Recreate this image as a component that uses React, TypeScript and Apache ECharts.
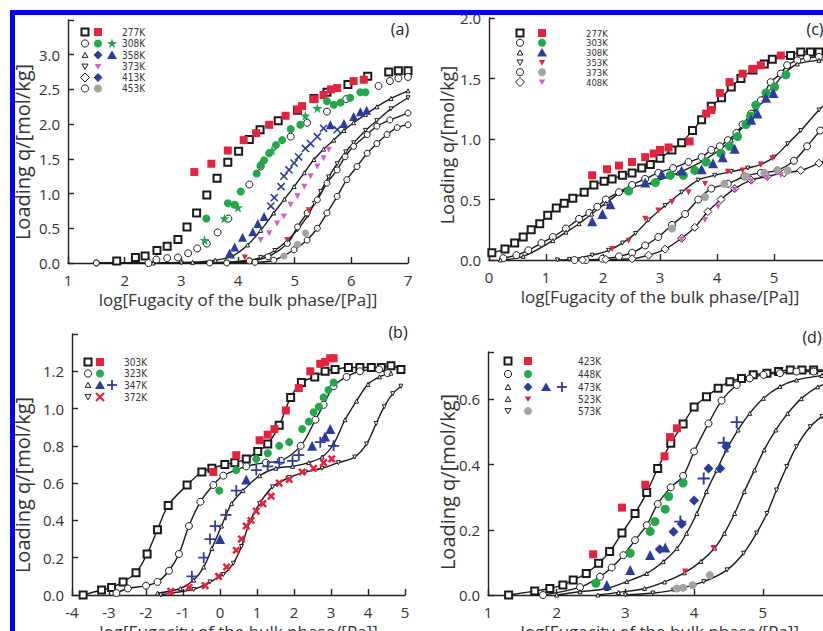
import React, { useEffect, useRef } from 'react';
import * as echarts from 'echarts';

// ---------- colours / fonts ----------
const RED = '#e6233f';
const GREEN = '#22a84a';
const BLUE = '#2c3c9c';
const MAGENTA = '#d65ac8';
const GREY = '#a3a3a3';
const BLACK = '#1a1a1a';
const FONT = "'Open Sans', 'Noto Sans', sans-serif";
const NARROW = "'Liberation Sans Narrow', 'DejaVu Sans Condensed', 'Liberation Sans', sans-serif";

const X_NAME = 'log[Fugacity of the bulk phase/[Pa]]';
const Y_NAME = 'Loading q/[mol/kg]';

// ---------- panel (a) ----------
const a277Sim = [[1.86,0.03],[2.19,0.08],[2.36,0.10],[2.57,0.18],[2.75,0.24],[2.94,0.34],[3.10,0.52],[3.27,0.72],[3.45,0.98],[3.63,1.22],[3.82,1.45],[4.01,1.61],[4.20,1.78],[4.39,1.92],[4.71,2.05],[5.05,2.20],[5.34,2.37],[5.57,2.46],[5.94,2.57],[6.29,2.69],[6.66,2.75],[6.83,2.77],[7.0,2.77]];
const a277Exp = [[3.23,1.31],[3.53,1.43],[3.82,1.62],[4.10,1.77],[4.32,1.87],[4.55,1.99],[4.84,2.12],[5.05,2.21],[5.13,2.26],[5.34,2.36],[5.51,2.42],[5.64,2.50],[5.75,2.52],[6.04,2.62],[6.22,2.64]];
const a308Sim = [[2.42,0.0],[2.56,0.05],[2.75,0.07],[2.94,0.08],[3.12,0.14],[3.28,0.21],[3.45,0.28],[3.64,0.44],[3.83,0.64],[4.20,1.13],[4.40,1.39],[4.93,1.82],[5.22,2.02],[5.57,2.18],[5.91,2.36],[6.48,2.55],[6.68,2.62],[6.83,2.66],[7.0,2.68]];
const a308Exp = [[3.44,0.64],[3.82,0.86],[3.94,0.84],[4.05,1.03],[4.33,1.29],[4.40,1.41],[4.46,1.48],[4.55,1.58],[4.67,1.70],[4.78,1.77],[4.93,1.93],[5.10,1.99],[5.57,2.33],[5.69,2.28],[5.81,2.31],[5.98,2.38],[6.16,2.46],[6.25,2.46]];
const a308Star = [[3.41,0.33],[3.76,0.64],[4.0,0.80],[4.6,1.62],[5.19,2.12],[5.40,2.23]];
const a358Sim = [[1.5,0],[2.5,0.0],[3.2,0.01],[3.6,0.04],[3.9,0.10],[4.17,0.26],[4.4,0.47],[4.63,0.72],[4.82,0.92],[4.99,1.10],[5.17,1.30],[5.34,1.49],[5.51,1.64],[5.69,1.77],[5.87,1.91],[6.04,2.02],[6.25,2.14],[6.45,2.25],[6.7,2.37],[7.0,2.48]];
const a358Tri = [[3.85,0.14],[3.94,0.23],[4.08,0.37],[4.26,0.45],[4.35,0.57],[4.46,0.67],[5.63,1.99],[5.87,2.01],[6.04,2.11],[6.16,2.18],[6.27,2.20]];
const a358Cross = [[4.58,0.82],[4.64,0.94],[4.76,1.10],[4.81,1.25],[4.90,1.34],[4.99,1.44],[5.07,1.53],[5.19,1.65],[5.28,1.72],[5.40,1.82],[5.51,1.94],[5.75,1.92]];
const a373Sim = [[1.5,0],[3.0,0],[3.8,0.01],[4.2,0.04],[4.40,0.08],[4.65,0.18],[4.88,0.33],[5.05,0.48],[5.23,0.68],[5.35,0.86],[5.46,1.03],[5.6,1.24],[5.75,1.43],[5.9,1.60],[6.04,1.73],[6.25,1.91],[6.45,2.05],[6.7,2.22],[7.0,2.38]];
const a373Exp = [[4.40,0.33],[4.55,0.43],[4.69,0.57],[4.81,0.67],[4.93,0.84],[5.05,0.96],[5.17,1.10],[5.28,1.25],[5.40,1.39],[5.51,1.51],[5.60,1.63]];
const a413Sim = [[1.5,0],[3.5,0],[4.2,0.03],[4.53,0.09],[4.87,0.28],[5.05,0.52],[5.22,0.72],[5.40,0.91],[5.57,1.15],[5.75,1.34],[5.89,1.53],[6.04,1.68],[6.28,1.85],[6.45,1.97],[6.68,2.06],[7.0,2.16]];
const a413Exp = [[4.12,0.08],[4.87,0.33],[5.25,0.76]];
const a453Sim = [[1.5,0],[3.8,0],[4.3,0.01],[4.63,0.04],[4.99,0.19],[5.22,0.33],[5.40,0.50],[5.57,0.72],[5.75,0.96],[5.92,1.20],[6.10,1.39],[6.28,1.58],[6.45,1.72],[6.63,1.85],[6.81,1.95],[7.0,1.99]];
const a453Exp = [[4.81,0.10],[5.05,0.27],[5.19,0.43]];

// ---------- panel (b) ----------
const b303Sim = [[-3.7,0],[-3.2,0.027],[-2.93,0.04],[-2.62,0.07],[-2.27,0.12],[-1.97,0.22],[-1.69,0.35],[-1.40,0.48],[-0.89,0.59],[-0.49,0.66],[-0.22,0.68],[0.13,0.70],[0.40,0.71],[0.71,0.73],[1.02,0.77],[1.29,0.81],[1.60,0.91],[1.91,1.06],[2.20,1.14],[2.56,1.17],[2.84,1.20],[3.11,1.21],[3.47,1.22],[3.78,1.22],[4.09,1.22],[4.36,1.22],[4.62,1.23],[4.89,1.21]];
const b303Exp = [[-0.18,0.66],[0.44,0.75],[1.07,0.83],[1.29,0.86],[1.47,0.89],[1.78,0.99],[2.13,1.11],[2.44,1.20],[2.71,1.24],[2.84,1.25],[2.98,1.27],[3.07,1.27]];
const b323Sim = [[-2.8,0.01],[-2.49,0.035],[-2.0,0.05],[-1.69,0.07],[-1.38,0.13],[-1.11,0.22],[-0.84,0.37],[-0.53,0.50],[-0.18,0.59],[0.09,0.64],[0.71,0.69],[1.24,0.71],[1.64,0.72],[2.18,0.80],[2.58,0.94],[2.80,1.02],[3.07,1.12],[3.42,1.17],[3.78,1.20],[4.3,1.21],[4.53,1.19]];
const b323Exp = [[-0.02,0.56],[0.44,0.67],[0.98,0.73],[1.29,0.76],[1.60,0.80],[1.87,0.82],[2.22,0.89],[2.40,0.93],[2.53,0.98],[2.67,1.01],[2.80,1.06],[2.93,1.10],[3.07,1.14]];
const b347Sim = [[-1.69,0.01],[-1.07,0.035],[-0.71,0.08],[-0.44,0.15],[-0.22,0.25],[0.04,0.37],[0.31,0.49],[0.62,0.56],[1.07,0.64],[1.51,0.68],[1.96,0.69],[2.40,0.71],[2.76,0.74],[3.07,0.81],[3.38,0.94],[3.69,1.04],[4.0,1.13],[4.31,1.17],[4.62,1.19]];
const b347Plus = [[-0.76,0.10],[-0.44,0.20],[-0.27,0.30],[-0.13,0.37],[0.16,0.43],[0.44,0.56],[0.98,0.67],[1.29,0.69],[1.60,0.71],[1.96,0.72],[2.13,0.75],[2.71,0.82],[3.07,0.80]];
const b347Tri = [[0.0,0.30],[0.71,0.62],[2.49,0.80],[2.84,0.85],[2.98,0.89]];
const b372Sim = [[-1.6,0.0],[-1.33,0.01],[-0.71,0.03],[-0.27,0.07],[0.09,0.11],[0.36,0.17],[0.58,0.26],[0.80,0.39],[1.07,0.49],[1.42,0.58],[1.87,0.63],[2.31,0.66],[2.76,0.68],[3.20,0.71],[3.64,0.74],[3.96,0.81],[4.22,0.92],[4.44,1.01],[4.67,1.08],[4.89,1.12]];
const b372Exp = [[-1.33,0.02],[-0.84,0.04],[-0.40,0.05],[-0.04,0.10],[0.18,0.15],[0.44,0.24],[0.58,0.30],[0.71,0.37],[0.84,0.40],[0.98,0.45],[1.16,0.49],[1.38,0.53],[1.60,0.60],[1.87,0.62],[2.22,0.66],[2.53,0.68],[2.80,0.71],[3.02,0.73]];

// ---------- panel (c) ----------
const c277Sim = [[0.05,0.06],[0.28,0.09],[0.45,0.14],[0.60,0.19],[0.74,0.25],[0.89,0.30],[1.03,0.37],[1.18,0.43],[1.32,0.47],[1.47,0.51],[1.67,0.56],[1.84,0.62],[2.02,0.65],[2.16,0.67],[2.34,0.70],[2.51,0.72],[2.68,0.76],[2.83,0.79],[3.0,0.84],[3.21,0.91],[3.38,0.97],[3.57,1.07],[3.73,1.16],[3.90,1.27],[4.08,1.34],[4.25,1.43],[4.42,1.50],[4.63,1.57],[4.83,1.62],[4.97,1.66],[5.29,1.69],[5.47,1.72],[5.64,1.72],[5.79,1.72],[6.0,1.72]];
const c277Exp = [[1.81,0.70],[2.07,0.75],[2.28,0.78],[2.51,0.81],[2.74,0.85],[2.89,0.88],[3.0,0.91],[3.15,0.93],[3.52,0.98],[3.81,1.21],[3.90,1.24],[4.05,1.38],[4.22,1.47],[4.45,1.54],[4.63,1.58],[4.77,1.61],[5.12,1.69]];
const c303Sim = [[0.25,0.015],[0.48,0.04],[0.69,0.08],[0.92,0.14],[1.12,0.19],[1.35,0.26],[1.58,0.34],[1.76,0.39],[1.9,0.44],[2.05,0.50],[2.28,0.56],[2.51,0.62],[2.74,0.67],[2.97,0.72],[3.23,0.76],[3.5,0.81],[3.73,0.85],[3.90,0.91],[4.05,0.94],[4.19,0.99],[4.34,1.05],[4.45,1.12],[4.60,1.21],[4.77,1.32],[4.94,1.47],[5.12,1.54],[5.23,1.61],[5.41,1.65],[5.58,1.67],[5.79,1.68],[6.0,1.69]];
const c303Exp = [[2.45,0.57],[2.92,0.64],[3.18,0.70],[3.41,0.70],[3.61,0.74],[3.81,0.81],[4.07,0.88],[4.22,0.94],[4.36,1.02],[4.51,1.12],[4.59,1.19],[4.68,1.28],[4.86,1.38],[5.01,1.43],[5.21,1.53]];
const c308Sim = [[0.2,0.0],[0.6,0.03],[1.12,0.16],[1.35,0.23],[1.58,0.30],[1.8,0.38],[2.05,0.47],[2.39,0.58],[2.86,0.64],[3.32,0.72],[3.79,0.83],[4.25,0.99],[4.60,1.19],[4.94,1.40],[5.18,1.54],[5.41,1.62],[5.79,1.65],[6.0,1.66]];
const c308Exp = [[1.81,0.32],[1.99,0.38],[2.13,0.46],[2.74,0.64],[3.03,0.71],[3.38,0.74],[3.73,0.75],[3.93,0.80],[4.10,0.85],[4.31,0.92],[4.60,1.16],[4.71,1.21],[4.86,1.34],[4.99,1.38]];
const c353Sim = [[1.2,0.0],[1.41,0.005],[1.81,0.04],[2.10,0.08],[2.34,0.14],[2.57,0.22],[2.80,0.33],[3.09,0.45],[3.38,0.56],[3.67,0.66],[3.96,0.70],[4.25,0.73],[4.54,0.76],[4.77,0.79],[5.0,0.85],[5.24,0.96],[5.47,1.07],[5.79,1.24],[6.0,1.33]];
const c353Exp = [[2.16,0.09],[2.45,0.16],[2.74,0.34],[2.97,0.41],[3.21,0.48],[3.5,0.56],[3.79,0.63],[4.19,0.73],[4.45,0.74],[4.77,0.79],[4.97,0.84]];
const c373Sim = [[1.5,0],[1.70,0.0],[1.99,0.01],[2.28,0.03],[2.51,0.06],[2.74,0.12],[2.97,0.19],[3.21,0.29],[3.44,0.38],[3.67,0.50],[3.90,0.59],[4.19,0.63],[4.48,0.69],[4.77,0.72],[5.06,0.74],[5.35,0.82],[5.58,0.94],[5.81,1.07],[6.0,1.17]];
const c373Exp = [[3.21,0.26],[3.79,0.52],[4.13,0.63],[4.51,0.69],[4.83,0.72],[5.06,0.74],[5.24,0.74]];
const c408Sim = [[1.64,0.0],[2.05,0.005],[2.51,0.01],[2.80,0.04],[3.09,0.09],[3.38,0.18],[3.61,0.27],[3.84,0.40],[4.07,0.50],[4.31,0.59],[4.60,0.66],[4.88,0.69],[5.18,0.72],[5.47,0.74],[5.79,0.80],[6.0,0.84]];
const c408Exp = [[3.38,0.17],[3.79,0.33],[4.02,0.44],[4.31,0.58],[4.60,0.65],[4.88,0.68],[5.12,0.70]];

// ---------- panel (d) ----------
const d423Sim = [[1.3,0.0],[1.68,0.012],[1.90,0.02],[2.09,0.031],[2.24,0.046],[2.43,0.066],[2.61,0.097],[2.77,0.133],[2.95,0.19],[3.14,0.25],[3.31,0.314],[3.47,0.388],[3.66,0.465],[3.84,0.524],[4.0,0.576],[4.18,0.608],[4.35,0.634],[4.52,0.654],[4.69,0.664],[4.86,0.675],[5.06,0.68],[5.23,0.685],[5.40,0.69],[5.57,0.69],[5.74,0.69],[6.0,0.69]];
const d423Exp = [[2.53,0.125],[2.95,0.268],[3.29,0.338],[3.57,0.425],[3.65,0.484],[3.75,0.511]];
const d448Sim = [[1.8,0.0],[2.34,0.024],[2.63,0.056],[2.80,0.084],[2.97,0.122],[3.14,0.168],[3.31,0.214],[3.47,0.279],[3.66,0.33],[3.84,0.365],[4.0,0.44],[4.21,0.526],[4.40,0.596],[4.62,0.644],[4.81,0.664],[5.01,0.675],[5.25,0.68],[5.49,0.685],[5.74,0.685],[6.0,0.685]];
const d448Exp = [[2.57,0.036],[3.07,0.128],[3.36,0.195],[3.43,0.225],[3.58,0.263],[3.63,0.302],[3.84,0.343]];
const d473Sim = [[2.0,0.0],[2.34,0.010],[2.73,0.020],[3.02,0.041],[3.31,0.066],[3.55,0.102],[3.75,0.143],[3.89,0.189],[4.04,0.25],[4.18,0.317],[4.33,0.383],[4.47,0.445],[4.64,0.506],[4.81,0.557],[5.01,0.603],[5.25,0.639],[5.49,0.659],[5.86,0.673],[6.0,0.676]];
const d473Tri = [[2.73,0.031],[3.07,0.077],[3.36,0.123],[3.58,0.146]];
const d473Dia = [[3.50,0.14],[3.70,0.194],[3.82,0.218],[4.0,0.29],[4.21,0.388],[4.38,0.388],[4.47,0.455]];
const d473Plus = [[3.80,0.225],[4.14,0.357],[4.43,0.467],[4.62,0.53]];
const d523Sim = [[2.6,0.0],[2.9,0.008],[3.28,0.02],[3.57,0.04],[3.86,0.068],[4.10,0.103],[4.30,0.144],[4.44,0.189],[4.59,0.25],[4.73,0.317],[4.88,0.383],[5.02,0.445],[5.19,0.506],[5.36,0.556],[5.56,0.602],[5.80,0.638],[6.0,0.652]];
const d523Exp = [[3.87,0.072],[4.28,0.144]];
const d573Sim = [[3.0,0.0],[3.4,0.006],[3.70,0.015],[4.14,0.041],[4.48,0.077],[4.72,0.128],[4.91,0.19],[5.06,0.25],[5.20,0.322],[5.35,0.394],[5.49,0.455],[5.69,0.516],[5.86,0.547],[6.0,0.565]];
const d573Exp = [[3.75,0.02],[3.84,0.022],[3.98,0.03],[4.23,0.061]];

// ---------- symbols ----------
const DOWN_TRI = 'path://M0,0L10,0L5,9Z';
const PLUS = 'path://M4.2,0H5.8V4.2H10V5.8H5.8V10H4.2V5.8H0V4.2H4.2Z';
const PLUS_BOLD = 'path://M3.6,0H6.4V3.6H10V6.4H6.4V10H3.6V6.4H0V3.6H3.6Z';
const STAR = 'path://M5,0L6.2,3.6L10,3.6L7,5.9L8.1,9.5L5,7.3L1.9,9.5L3,5.9L0,3.6L3.8,3.6Z';

function simLine(g: number, data: number[][], symbol: string, size: number, bw = 1) {
  return {
    type: 'line', xAxisIndex: g, yAxisIndex: g, data, smooth: 0.35,
    symbol, symbolSize: size, showSymbol: true, showAllSymbol: true,
    lineStyle: { color: BLACK, width: 1.4 },
    itemStyle: { color: '#ffffff', borderColor: BLACK, borderWidth: bw },
    z: 3, silent: true,
  };
}
function simScatter(g: number, data: number[][], symbol: string, size: number, bw = 1) {
  return {
    type: 'scatter', xAxisIndex: g, yAxisIndex: g, data, symbol, symbolSize: size,
    itemStyle: { color: '#ffffff', borderColor: BLACK, borderWidth: bw, opacity: 1 },
    z: 3, silent: true,
  };
}
function exp(g: number, data: number[][], symbol: string, size: number, color: string, rotate = 0) {
  return {
    type: 'scatter', xAxisIndex: g, yAxisIndex: g, data, symbol, symbolSize: size, symbolRotate: rotate,
    itemStyle: { color, opacity: 1 }, z: 4, silent: true,
  };
}

function xAx(g: number, min: number, max: number, hideAbove: number) {
  return {
    type: 'value', gridIndex: g, min, max, interval: 1,
    name: X_NAME, nameLocation: 'middle', nameGap: 28,
    nameTextStyle: { fontFamily: FONT, fontSize: 17, color: '#333', lineHeight: 17 },
    axisLine: { show: true, onZero: false, lineStyle: { color: '#222', width: 1.4 } },
    axisTick: { show: true, inside: true, length: 6, lineStyle: { color: '#222', width: 1.4 } },
    axisLabel: {
      show: true, margin: 9, fontFamily: FONT, fontSize: 15, lineHeight: 15, color: '#333',
      formatter: (v: number) => (v > hideAbove ? '' : String(Math.round(v))),
    },
    splitLine: { show: false },
  };
}
function yAx(g: number, min: number, max: number, interval: number, ok: (v: number) => boolean) {
  return {
    type: 'value', gridIndex: g, min, max, interval,
    axisLine: { show: true, onZero: false, lineStyle: { color: '#222', width: 1.4 } },
    axisTick: { show: true, inside: true, length: 6, lineStyle: { color: '#222', width: 1.4 } },
    axisLabel: { show: true, margin: 8, fontFamily: FONT, fontSize: 15, color: '#333', formatter: (v: number) => (ok(v) ? v.toFixed(1) : '') },
    splitLine: { show: false },
  };
}

// ---------- legend graphics ----------
function mk(kind: string, cx: number, cy: number, color = BLACK): any {
  const open = { fill: '#ffffff', stroke: BLACK, lineWidth: 1 };
  switch (kind) {
    case 'sqOpen': return { type: 'rect', shape: { x: cx - 3.5, y: cy - 3.5, width: 7, height: 7 }, style: { fill: '#fff', stroke: BLACK, lineWidth: 2 } };
    case 'sq': return { type: 'rect', shape: { x: cx - 4, y: cy - 4, width: 8, height: 8 }, style: { fill: color } };
    case 'ciOpen': return { type: 'circle', shape: { cx, cy, r: 3.6 }, style: open };
    case 'ci': return { type: 'circle', shape: { cx, cy, r: 4 }, style: { fill: color } };
    case 'triOpen': return { type: 'polygon', shape: { points: [[cx - 2.8, cy + 2.4], [cx + 2.8, cy + 2.4], [cx, cy - 2.6]] }, style: open };
    case 'tri': return { type: 'polygon', shape: { points: [[cx - 5, cy + 4], [cx + 5, cy + 4], [cx, cy - 4.5]] }, style: { fill: color } };
    case 'dtriOpen': return { type: 'polygon', shape: { points: [[cx - 3, cy - 2.4], [cx + 3, cy - 2.4], [cx, cy + 2.8]] }, style: open };
    case 'dtri': return { type: 'polygon', shape: { points: [[cx - 3.2, cy - 2.5], [cx + 3.2, cy - 2.5], [cx, cy + 3]] }, style: { fill: color } };
    case 'diaOpen': return { type: 'polygon', shape: { points: [[cx, cy - 4.5], [cx + 4.5, cy], [cx, cy + 4.5], [cx - 4.5, cy]] }, style: open };
    case 'dia': return { type: 'polygon', shape: { points: [[cx, cy - 4.5], [cx + 4.5, cy], [cx, cy + 4.5], [cx - 4.5, cy]] }, style: { fill: color } };
    case 'star': return { type: 'polygon', shape: { points: [[cx, cy - 5], [cx + 1.2, cy - 1.5], [cx + 5, cy - 1.5], [cx + 2, cy + 0.9], [cx + 3.1, cy + 4.5], [cx, cy + 2.3], [cx - 3.1, cy + 4.5], [cx - 2, cy + 0.9], [cx - 5, cy - 1.5], [cx - 1.2, cy - 1.5]] }, style: { fill: color } };
    case 'plus': return { type: 'group', children: [
      { type: 'line', shape: { x1: cx - 5, y1: cy, x2: cx + 5, y2: cy }, style: { stroke: color, lineWidth: 1.8 } },
      { type: 'line', shape: { x1: cx, y1: cy - 5, x2: cx, y2: cy + 5 }, style: { stroke: color, lineWidth: 1.8 } }] };
    case 'x': return { type: 'group', children: [
      { type: 'line', shape: { x1: cx - 4, y1: cy - 4, x2: cx + 4, y2: cy + 4 }, style: { stroke: color, lineWidth: 2.2 } },
      { type: 'line', shape: { x1: cx - 4, y1: cy + 4, x2: cx + 4, y2: cy - 4 }, style: { stroke: color, lineWidth: 2.2 } }] };
  }
  return { type: 'group' };
}
function legendRow(y: number, cols: number[], kinds: [string, string?][], textX: number, label: string, fs = 10): any[] {
  const els: any[] = kinds.map((k, i) => mk(k[0], cols[i], y, k[1] || BLACK));
  els.push({ type: 'text', x: textX, y, style: { text: label, fontFamily: NARROW, fontSize: fs, lineHeight: fs, fill: '#333', verticalAlign: 'middle', align: 'left' } });
  return els;
}

const aLegendLabels = ['277K', '308K', '358K', '373K', '413K', '453K'];
const bLegendLabels = ['303K', '323K', '347K', '372K'];
const cLegendLabels = ['277K', '303K', '308K', '353K', '373K', '408K'];
const dLegendLabels = ['423K', '448K', '473K', '523K', '573K'];

function buildGraphics(): any[] {
  const g: any[] = [];
  // (a)
  const aY = [32, 43.5, 55, 66.5, 77.5, 88.5];
  const aK: [string, string?][][] = [
    [['sqOpen'], ['sq', RED]],
    [['ciOpen'], ['ci', GREEN], ['star', GREEN]],
    [['triOpen'], ['dia', BLUE], ['tri', BLUE]],
    [['dtriOpen'], ['dtri', MAGENTA]],
    [['diaOpen'], ['dia', BLUE]],
    [['ciOpen'], ['ci', GREY]],
  ];
  aK.forEach((k, i) => g.push(...legendRow(aY[i], [85, 98, 112], k, 122, aLegendLabels[i])));
  // (b)
  const bY = [362, 373.5, 385, 397];
  const bK: [string, string?][][] = [
    [['sqOpen'], ['sq', RED]],
    [['ciOpen'], ['ci', GREEN]],
    [['triOpen'], ['tri', BLUE], ['plus', BLUE]],
    [['dtriOpen'], ['x', RED]],
  ];
  bK.forEach((k, i) => g.push(...legendRow(bY[i], [88, 100, 112], k, 124, bLegendLabels[i])));
  // (c)
  const cY = [33, 42.8, 52.6, 62.4, 72.2, 82];
  const cK: [string, string?][][] = [
    [['sqOpen'], ['sq', RED]],
    [['ciOpen'], ['ci', GREEN]],
    [['triOpen'], ['tri', BLUE]],
    [['dtriOpen'], ['dtri', RED]],
    [['ciOpen'], ['ci', GREY]],
    [['diaOpen'], ['dtri', MAGENTA]],
  ];
  cK.forEach((k, i) => g.push(...legendRow(cY[i], [520, 542], k, 586, cLegendLabels[i], 9.5)));
  // (d)
  const dY = [361, 374, 387, 399, 411];
  const dK: [string, string?][][] = [
    [['sqOpen'], ['sq', RED]],
    [['ciOpen'], ['ci', GREEN]],
    [['triOpen'], ['dia', BLUE], ['tri', BLUE], ['plus', BLUE]],
    [['triOpen'], ['dtri', RED]],
    [['dtriOpen'], ['ci', GREY]],
  ];
  dK.forEach((k, i) => g.push(...legendRow(dY[i], [508, 528, 546, 562], k, 578, dLegendLabels[i])));
  // y-axis titles (rotated)
  const yNames: [number, number, number][] = [[22, 152, 20], [22, 485, 20], [447, 145, 18], [447, 482, 20]];
  yNames.forEach(([x, y, fs]) => g.push({
    type: 'text', x, y, rotation: Math.PI / 2,
    style: { text: Y_NAME, fontFamily: FONT, fontSize: fs, fill: '#333', align: 'center', verticalAlign: 'middle' },
  }));
  // panel letters
  const letters: [string, number, number][] = [['(a)', 400, 29], ['(b)', 398, 332], ['(c)', 815, 29], ['(d)', 812, 337]];
  letters.forEach(([t, x, y]) => g.push({ type: 'text', x, y, style: { text: t, fontFamily: FONT, fontSize: 16, fill: '#222', align: 'center', verticalAlign: 'middle' } }));
  // blue frame
  g.push({ type: 'rect', z: 100, shape: { x: 10, y: 10, width: 813, height: 5 }, style: { fill: '#0000f5' } });
  g.push({ type: 'rect', z: 100, shape: { x: 10, y: 10, width: 5, height: 621 }, style: { fill: '#0000f5' } });
  return g;
}

export default function App() {
  const ref = useRef<HTMLDivElement>(null);
  useEffect(() => {
    if (!ref.current) return;
    const chart = echarts.init(ref.current, null, { renderer: 'svg' });
    const grids = [
      { left: 68, top: 20, width: 340, height: 243 },
      { left: 72, top: 334, width: 333, height: 261 },
      { left: 489, top: 18, width: 342, height: 242 },
      { left: 488, top: 352, width: 343.5, height: 243 },
    ].map((g) => ({ ...g, outerBoundsMode: 'none', containLabel: false, show: false }));
    const option: any = {
      animation: false,
      backgroundColor: '#ffffff',
      grid: grids,
      xAxis: [xAx(0, 1, 7, 7), xAx(1, -4, 5, 5), xAx(2, 0, 6, 5), xAx(3, 1, 6, 5)],
      yAxis: [
        yAx(0, 0, 3.5, 0.5, (v) => v < 3.25),
        yAx(1, 0, 1.4, 0.2, (v) => v < 1.3),
        yAx(2, 0, 2, 0.5, () => true),
        yAx(3, 0, 0.745, 0.2, (v) => Math.abs(v * 5 - Math.round(v * 5)) < 1e-6),
      ],
      series: [
        // (a)
        simLine(0, a358Sim, 'triangle', 4),
        simLine(0, a373Sim, DOWN_TRI, 4),
        simLine(0, a413Sim, 'circle', 6),
        simLine(0, a453Sim, 'circle', 6),
        simScatter(0, a277Sim, 'rect', 7, 2),
        simScatter(0, a308Sim, 'circle', 7, 1),
        exp(0, a277Exp, 'rect', 8, RED),
        exp(0, a308Exp, 'circle', 8, GREEN),
        exp(0, a308Star, STAR, 10, GREEN),
        exp(0, a358Tri, 'triangle', 9, BLUE),
        exp(0, a358Cross, PLUS, 10, BLUE, 45),
        exp(0, a373Exp, DOWN_TRI, 6, MAGENTA),
        exp(0, a413Exp, DOWN_TRI, 6, RED),
        exp(0, a453Exp, 'circle', 7, GREY),
        // (b)
        simLine(1, b303Sim, 'rect', 7, 2),
        simLine(1, b323Sim, 'circle', 7),
        simLine(1, b347Sim, 'triangle', 4),
        simLine(1, b372Sim, DOWN_TRI, 4),
        exp(1, b303Exp, 'rect', 8, RED),
        exp(1, b323Exp, 'circle', 8, GREEN),
        exp(1, b347Plus, PLUS, 11, BLUE),
        exp(1, b347Tri, 'triangle', 10, BLUE),
        exp(1, b372Exp, PLUS_BOLD, 9, RED, 45),
        // (c)
        simLine(2, c277Sim, 'rect', 7, 2),
        simLine(2, c303Sim, 'circle', 7),
        simLine(2, c308Sim, 'triangle', 4),
        simLine(2, c353Sim, DOWN_TRI, 4),
        simLine(2, c373Sim, 'circle', 7),
        simLine(2, c408Sim, 'diamond', 8),
        exp(2, c277Exp, 'rect', 8, RED),
        exp(2, c303Exp, 'circle', 9, GREEN),
        exp(2, c308Exp, 'triangle', 10, BLUE),
        exp(2, c353Exp, DOWN_TRI, 6, RED),
        exp(2, c373Exp, 'circle', 8, GREY),
        exp(2, c408Exp, DOWN_TRI, 6, MAGENTA),
        // (d)
        simLine(3, d423Sim, 'rect', 7, 2),
        simLine(3, d448Sim, 'circle', 7),
        simLine(3, d473Sim, 'triangle', 4),
        simLine(3, d523Sim, 'triangle', 4),
        simLine(3, d573Sim, DOWN_TRI, 4),
        exp(3, d423Exp, 'rect', 8, RED),
        exp(3, d448Exp, 'circle', 9, GREEN),
        exp(3, d473Tri, 'triangle', 10, BLUE),
        exp(3, d473Dia, 'diamond', 10, BLUE),
        exp(3, d473Plus, PLUS, 12, BLUE),
        exp(3, d523Exp, DOWN_TRI, 6, RED),
        exp(3, d573Exp, 'circle', 8, GREY),
      ],
      graphic: buildGraphics(),
    };
    chart.setOption(option);
    return () => chart.dispose();
  }, []);
  return (
    <div
      ref={ref}
      style={{ position: 'fixed', left: 0, top: 0, width: 823, height: 631, background: '#fff', overflow: 'hidden' }}
    />
  );
}
